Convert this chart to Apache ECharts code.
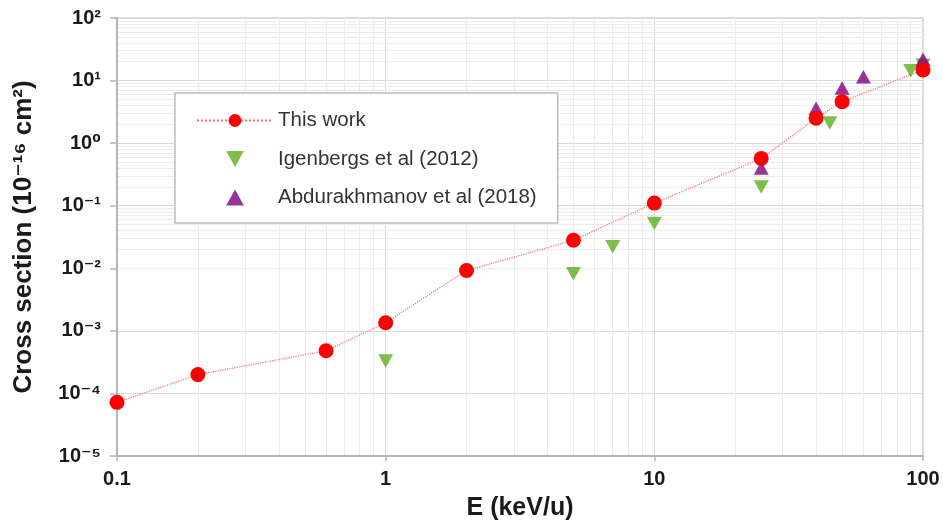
<!DOCTYPE html>
<html>
<head>
<meta charset="utf-8">
<script src="https://cdn.jsdelivr.net/npm/echarts@6/dist/echarts.min.js"></script>
<style>
html,body{margin:0;padding:0;background:#fff;}
#c{width:943px;height:526px;}
</style>
</head>
<body>
<div id="c"></div>
<script>
// ---- data ----
const thisWorkE = [0.1, 0.2, 0.6, 1, 2, 5, 10, 25, 40, 50, 100];
const thisWorkS = [7.2e-5, 2.0e-4, 4.8e-4, 1.35e-3, 9.2e-3, 2.8e-2, 0.11, 0.57, 2.5, 4.6, 14.8];
const igenE = [1, 5, 7, 10, 25, 45, 90, 100];
const igenS = [3.3e-4, 8.2e-3, 2.2e-2, 0.052, 0.2, 2.1, 14.4, 17.5];
const abduE = [25, 40, 50, 60, 100];
const abduS = [0.4, 3.6, 7.6, 11.5, 22];
const seriesNames = ['This work', 'Igenbergs et al (2012)', 'Abdurakhmanov et al (2018)'];
const xAxisName = 'E (keV/u)';
const yAxisName = 'Cross section (10\u207B\u00B9\u2076 cm\u00B2)';
const xTickLabels = {'0.1': '0.1', '1': '1', '10': '10', '100': '100'};

// ---- helpers ----
const sup = {'0':'\u2070','1':'\u00B9','2':'\u00B2','3':'\u00B3','4':'\u2074','5':'\u2075','6':'\u2076','7':'\u2077','8':'\u2078','9':'\u2079','-':'\u207B'};
function powLabel(v) {
  const e = Math.round(Math.log10(v));
  return '10' + String(e).split('').map(ch => sup[ch]).join('');
}
function pairs(xs, ys) { return xs.map((x, i) => [x, ys[i]]); }

const TRI_UP = 'path://M1,0L2,1.8L0,1.8Z';
const TRI_DOWN = 'path://M0,0L2,0L1,1.8Z';

// minor grid positions (2..9 within each decade)
const minorX = [], minorY = [];
[0.1, 1, 10].forEach(d => { for (let k = 2; k <= 9; k++) minorX.push(+(d * k).toPrecision(3)); });
[1e-5, 1e-4, 1e-3, 1e-2, 1e-1, 1, 10].forEach(d => { for (let k = 2; k <= 9; k++) minorY.push(+(d * k).toPrecision(3)); });

const FONT = '"Liberation Sans", "DejaVu Sans", Arial, sans-serif';
const chart = echarts.init(document.getElementById('c'), null, {renderer: 'canvas'});
chart.setOption({
  animation: false,
  backgroundColor: '#fff',
  grid: {left: 117, right: 20, top: 18, bottom: 70, containLabel: false,
         show: true, borderColor: '#cfcfcf', borderWidth: 1.5},
  legend: {
    data: [
      {name: seriesNames[0]},
      {name: seriesNames[1], icon: TRI_DOWN},
      {name: seriesNames[2], icon: TRI_UP}
    ],
    orient: 'vertical',
    left: 175, top: 93,
    padding: [17, 21, 15, 21],
    itemGap: 17.5,
    itemWidth: 76,
    itemHeight: 16,
    symbolKeepAspect: true,
    backgroundColor: '#fff',
    borderColor: '#bdbdbd',
    borderWidth: 1.5,
    textStyle: {fontSize: 20.5, color: '#333', fontFamily: FONT},
    selectedMode: false
  },
  xAxis: {
    type: 'log', logBase: 10, min: 0.1, max: 100, splitNumber: 3,
    name: xAxisName, nameLocation: 'middle', nameGap: 40,
    nameTextStyle: {fontSize: 25, fontWeight: 'bold', color: '#1a1a1a', fontFamily: FONT},
    axisLine: {lineStyle: {color: '#b5b5b5', width: 2}},
    axisTick: {show: true, length: 5, lineStyle: {color: '#b5b5b5', width: 1.5}},
    axisLabel: {fontSize: 20, fontWeight: 'bold', color: '#1a1a1a', fontFamily: FONT, margin: 13,
      formatter: v => xTickLabels[String(+v.toPrecision(3))] || ''},
    splitLine: {show: true, lineStyle: {color: '#dadada', width: 1}}
  },
  yAxis: {
    type: 'log', logBase: 10, min: 1e-5, max: 100, splitNumber: 7,
    name: yAxisName, nameLocation: 'middle', nameGap: 80, nameRotate: 90,
    nameTextStyle: {fontSize: 26, fontWeight: 'bold', color: '#1a1a1a', fontFamily: FONT},
    axisLine: {show: true, lineStyle: {color: '#b5b5b5', width: 2}},
    axisTick: {show: true, length: 7, lineStyle: {color: '#b5b5b5', width: 1.5}},
    axisLabel: {fontSize: 20, fontWeight: 'bold', color: '#1a1a1a', fontFamily: FONT, margin: 16,
      formatter: v => powLabel(v)},
    splitLine: {show: true, lineStyle: {color: '#dadada', width: 1}}
  },
  series: [
    {
      type: 'scatter', name: '_minor', data: [], silent: true, z: 0,
      markLine: {
        silent: true, symbol: 'none', animation: false, z: 0,
        label: {show: false},
        lineStyle: {color: '#ececec', width: 1, type: 'solid'},
        emphasis: {disabled: true},
        data: minorX.map(v => ({xAxis: v})).concat(minorY.map(v => ({yAxis: v})))
      }
    },
    {
      name: seriesNames[0], type: 'line', data: pairs(thisWorkE, thisWorkS),
      symbol: 'circle', symbolSize: 15, z: 5,
      itemStyle: {color: '#ff0000'},
      lineStyle: {color: '#ff6a6a', width: 1.2, type: 'dotted'}
    },
    {
      name: seriesNames[1], type: 'scatter', data: pairs(igenE, igenS),
      symbol: TRI_DOWN, symbolSize: 15, symbolKeepAspect: true, z: 3,
      itemStyle: {color: '#5fad1f'}
    },
    {
      name: seriesNames[2], type: 'scatter', data: pairs(abduE, abduS),
      symbol: TRI_UP, symbolSize: 15, symbolKeepAspect: true, z: 4,
      itemStyle: {color: '#800080'}
    }
  ]
});
</script>
</body>
</html>
